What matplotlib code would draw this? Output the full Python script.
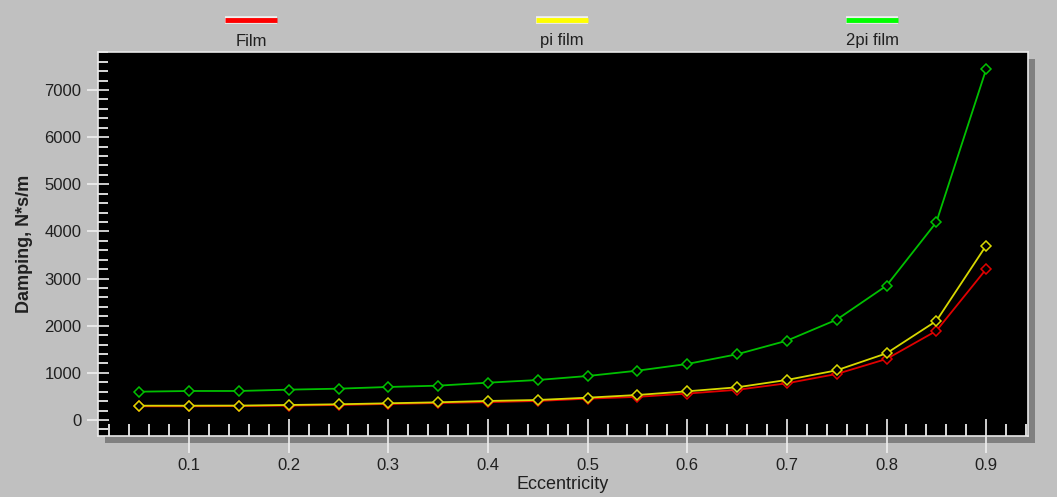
import matplotlib
matplotlib.use("Agg")
import matplotlib.pyplot as plt
from matplotlib.lines import Line2D
from matplotlib.patches import Rectangle
import matplotlib.patheffects as pe
from matplotlib.ticker import MultipleLocator

plt.rcParams['font.family'] = ['Liberation Sans', 'DejaVu Sans']

# Data
eccentricity = [0.05, 0.1, 0.15, 0.2, 0.25, 0.3, 0.35, 0.4, 0.45,
                0.5, 0.55, 0.6, 0.65, 0.7, 0.75, 0.8, 0.85, 0.9]
film = [290, 290, 295, 305, 318, 340, 360, 378, 403,
        452, 490, 560, 640, 778, 976, 1294, 1890, 3200]
pi_film = [303, 303, 305, 318, 333, 354, 375, 403, 424,
           473, 530, 608, 693, 849, 1054, 1414, 2100, 3700]
two_pi_film = [600, 615, 615, 643, 664, 700, 728, 791, 848,
               933, 1046, 1188, 1394, 1682, 2128, 2849, 4194, 7440]

series_names = ["Film", "pi film", "2pi film"]
line_colors = ["#E00000", "#D8D800", "#00C000"]
legend_colors = ["#FF0000", "#FFFF00", "#00FF00"]

W, H = 1057, 497
fig = plt.figure(figsize=(W / 100, H / 100), dpi=100)
fig.patch.set_facecolor("#C0C0C0")

# axes placement in pixels
left, right, top, bottom = 98, 1028, 52, 436
ax = fig.add_axes([left / W, 1 - bottom / H, (right - left) / W, (bottom - top) / H])
ax.set_facecolor("black")

# drop shadow behind the plot area
shadow = Rectangle(((left + 7) / W, 1 - (bottom + 7) / H), (right - left) / W, (bottom - top) / H,
                   transform=fig.transFigure, facecolor="#808080", edgecolor="none", zorder=-5)
fig.patches.append(shadow)

# Plot the three series (green first so yellow sits on top of red)
ax.plot(eccentricity, two_pi_film, color=line_colors[2], lw=1.3, marker="D", ms=5,
        mfc="black", mec=line_colors[2], mew=1.1, zorder=3)
ax.plot(eccentricity, film, color=line_colors[0], lw=1.3, marker="D", ms=5,
        mfc="black", mec=line_colors[0], mew=1.1, zorder=4)
ax.plot(eccentricity, pi_film, color=line_colors[1], lw=1.3, marker="D", ms=5,
        mfc="black", mec=line_colors[1], mew=1.1, zorder=5)

ax.set_xlim(0.0086, 0.942)
ax.set_ylim(-340, 7806)

ax.xaxis.set_major_locator(MultipleLocator(0.1))
ax.xaxis.set_minor_locator(MultipleLocator(0.02))
ax.yaxis.set_major_locator(MultipleLocator(1000))
ax.yaxis.set_minor_locator(MultipleLocator(200))
ax.set_xticks([0.1, 0.2, 0.3, 0.4, 0.5, 0.6, 0.7, 0.8, 0.9])
ax.set_xticklabels(["0.1", "0.2", "0.3", "0.4", "0.5", "0.6", "0.7", "0.8", "0.9"])

ax.tick_params(axis="x", which="major", direction="inout", length=24, width=1.2,
               color="#F0F0F0", labelsize=12, labelcolor="#202020", pad=4)
ax.tick_params(axis="x", which="minor", direction="in", length=9, width=1.2, color="white")
ax.tick_params(axis="y", which="major", direction="inout", length=16, width=1.2,
               color="#F0F0F0", labelsize=12, labelcolor="#202020", pad=4)
ax.tick_params(axis="y", which="minor", direction="in", length=7, width=1.2, color="white")

for s in ax.spines.values():
    s.set_color("#E8E8E8")
    s.set_linewidth(1.2)

ax.set_xlabel("Eccentricity", fontsize=13, color="#202020", labelpad=2)
ax.set_ylabel("Damping, N*s/m", fontsize=13, fontweight="bold", color="#202020", labelpad=8)

# legend across the top: colour bar above each name
legend_x = [251, 562, 872]
for name, col, cx in zip(series_names, legend_colors, legend_x):
    fig.add_artist(Line2D([(cx - 26) / W, (cx + 26) / W], [1 - 20 / H, 1 - 20 / H],
                          transform=fig.transFigure, color=col, lw=3.5, solid_capstyle="butt",
                          path_effects=[pe.Stroke(linewidth=5.5, foreground="#F0F0F0"), pe.Normal()]))
    fig.text(cx / W, 1 - 41 / H, name, ha="center", va="center", fontsize=12, color="#202020")

fig.savefig("out.png", dpi=100, facecolor=fig.get_facecolor())
